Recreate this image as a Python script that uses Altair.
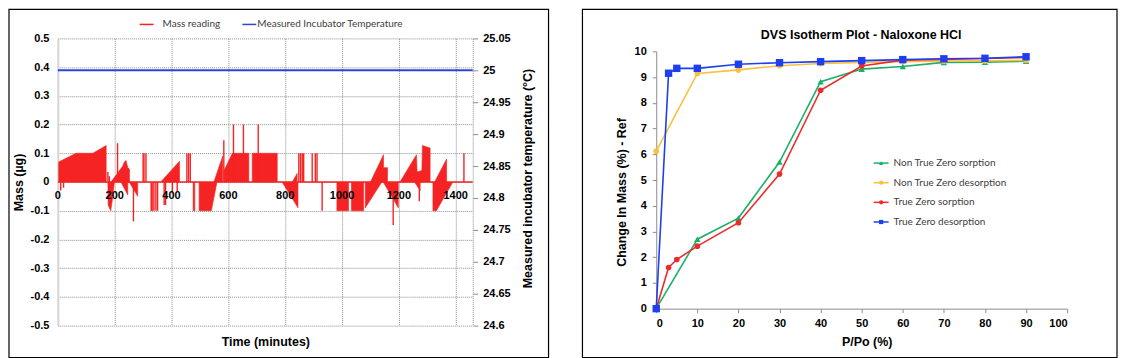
import altair as alt
import pandas as pd

# ---------------- Left panel data (mass reading vs time) ----------------
# envelope polygons of the mass reading trace: (time in minutes, mass in µg)
mass_polygons = [
    [(3, 0), (3, 0.07), (64, 0.1), (123, 0.1), (170, 0.127), (170, 0)],
    [(176, 0), (177, -0.08), (186, -0.1), (192, -0.06), (199, 0)],
    [(187, 0), (228, 0.055), (234, 0.07), (240, 0.075), (246, 0.05), (252, 0.045), (252, 0)],
    [(222, 0), (246, -0.045), (246, 0)],
    [(251, 0), (281, -0.05), (281, 0)],
    [(327, 0), (327, -0.1), (334, -0.1), (334, 0)],
    [(362, 0), (428, 0.072), (428, 0)],
    [(476, 0), (476, -0.1), (482, -0.1), (482, 0)],
    [(497, 0), (497, -0.1), (540, -0.1), (560, 0)],
    [(549, 0), (580, 0.09), (580, 0)],
    [(585, 0), (585, 0.04), (614, 0.1), (672, 0.1), (672, 0)],
    [(684, 0), (684, 0.1), (772, 0.1), (772, 0)],
    [(789, 0), (845, -0.09), (845, 0)],
    [(825, 0), (842, 0.03), (842, 0)],
    [(982, 0), (982, -0.1), (1023, -0.1), (1023, 0)],
    [(1033, 0), (1033, -0.1), (1076, -0.1), (1076, 0)],
    [(1082, 0), (1082, -0.09), (1140, 0)],
    [(1100, 0), (1146, 0.095), (1146, 0.05), (1160, 0.05), (1160, 0)],
    [(1145, 0), (1198, -0.09), (1198, 0)],
    [(1204, 0), (1262, 0.095), (1264, 0.035), (1281, 0.04), (1283, 0.127), (1310, 0.118), (1310, 0)],
    [(1255, 0), (1275, -0.03), (1275, 0)],
    [(1320, 0), (1320, -0.1), (1332, -0.1), (1390, 0)],
    [(1326, 0), (1368, 0.08), (1368, 0)],
]
spike_t = [10, 20, 176, 181, 210, 266, 300, 303, 310, 338, 345, 351, 374, 379, 403, 420,
           454, 460, 466, 584, 618, 653, 705, 848, 854, 860, 865, 895, 906, 912, 930,
           1180, 1272, 1429]
spike_v = [-0.03, -0.02, 0.035, 0.02, 0.135, -0.137, 0.1, 0.1, 0.1, -0.1, -0.1, -0.1, -0.08, -0.08, -0.04, -0.035,
           0.1, 0.1, 0.1, 0.145, 0.2, 0.2, 0.2, 0.1, 0.1, 0.1, 0.1, 0.1, 0.1, 0.1, -0.1,
           -0.15, -0.067, 0.1]
baseline_t = [0, 1460]
baseline_v = [0.0, 0.0]
temp_t = [0, 1460]
temp_v = [25.0, 25.0]
time_ticks = [0, 200, 400, 600, 800, 1000, 1200, 1400]
time_grid = [200, 400, 600, 800, 1000, 1200, 1400, 1460]
mass_ticks = [-0.5, -0.4, -0.3, -0.2, -0.1, 0.0, 0.1, 0.2, 0.3, 0.4, 0.5]
temp_ticks = [24.6, 24.65, 24.7, 24.75, 24.8, 24.85, 24.9, 24.95, 25.0, 25.05]
left_legend_labels = ["Mass reading", "Measured Incubator Temperature"]

# ---------------- Right panel data (DVS isotherm) ----------------
series_names = ["Non True Zero sorption", "Non True Zero desorption",
                "True Zero sorption", "True Zero desorption"]
nz_sorp_x = [0, 10, 20, 30, 40, 50, 60, 70, 80, 90]
nz_sorp_y = [0, 2.70, 3.52, 5.70, 8.82, 9.31, 9.41, 9.57, 9.58, 9.62]
nz_desorp_x = [0, 10, 20, 30, 40, 50, 60, 70, 80, 90]
nz_desorp_y = [6.12, 9.14, 9.28, 9.44, 9.53, 9.57, 9.60, 9.62, 9.63, 9.65]
tz_sorp_x = [0, 3, 5, 10, 20, 30, 40, 50, 60, 70, 80, 90]
tz_sorp_y = [0, 1.60, 1.91, 2.43, 3.34, 5.23, 8.49, 9.43, 9.66, 9.69, 9.72, 9.76]
tz_desorp_x = [0, 3, 5, 10, 20, 30, 40, 50, 60, 70, 80, 90]
tz_desorp_y = [0, 9.15, 9.34, 9.34, 9.50, 9.56, 9.60, 9.64, 9.68, 9.71, 9.73, 9.79]
rh_ticks = [0, 10, 20, 30, 40, 50, 60, 70, 80, 90, 100]
pct_ticks = [0, 1, 2, 3, 4, 5, 6, 7, 8, 9, 10]
right_title = "DVS Isotherm Plot - Naloxone HCl"

# ---------------- styling ----------------
FONT = "Liberation Sans"
LFONT = "Lato"
RED = "#F52323"
BLUE = "#2B45D4"
GRID = "#8c8c8c"
series_colors = ["#1BB068", "#F8C03E", "#EE2B2B", "#1E3FF0"]
series_shapes = ["triangle-up", "circle", "circle", "square"]
series_sizes = [42, 32, 32, 55]
one = pd.DataFrame({"k": [0]})

# ================= LEFT PANEL =================
W1, H1 = 416, 288
poly_rows = []
for pid, poly in enumerate(mass_polygons):
    for idx, (t, m) in enumerate(poly):
        poly_rows.append({"pid": pid, "idx": idx, "t": t, "m": m})
poly_df = pd.DataFrame(poly_rows)
spike_df = pd.DataFrame({"t": spike_t, "m": spike_v, "z": [0.0] * len(spike_t)})
base_df = pd.DataFrame({"t": baseline_t, "m": baseline_v})
temp_df = pd.DataFrame({"t": temp_t, "v": temp_v})
xtick_df = pd.DataFrame({"t": time_ticks, "m": [0.0] * len(time_ticks),
                         "label": [str(v) for v in time_ticks]})

xs1 = alt.Scale(domain=[0, 1460], nice=False, zero=False)
ys_mass = alt.Scale(domain=[-0.5, 0.5], nice=False)
ys_temp = alt.Scale(domain=[24.6, 25.05], nice=False, zero=False)

x_axis1 = alt.Axis(values=time_grid, grid=True, gridColor=GRID, gridDash=[1, 1], gridWidth=1,
                   labels=False, ticks=False, tickSize=0, domain=False,
                   title="Time (minutes)", titleFont=FONT, titleFontSize=12.5, titleFontWeight="bold",
                   titleColor="black", titleX=208, titleY=16, titleAlign="center", titleBaseline="middle")
y_axis_mass = alt.Axis(values=mass_ticks, grid=True, gridColor=GRID, gridDash=[1, 1], gridWidth=1,
                       domain=True, domainColor="#d4d4d4", domainWidth=2, ticks=False, tickSize=0,
                       labelPadding=9, labelFont=FONT, labelFontSize=11, labelFontWeight="bold",
                       labelColor="black", labelOverlap=False, format=".1~f",
                       labelExpr="replace(datum.label, '\u2212', '-')",
                       title="Mass (µg)", titleFont=FONT, titleFontSize=12.5, titleFontWeight="bold",
                       titleColor="black", titleAngle=270, titleX=-39, titleY=144,
                       titleAlign="center", titleBaseline="middle")
y_axis_temp = alt.Axis(orient="right", values=temp_ticks, grid=False, domain=False, ticks=True,
                       tickColor=GRID, tickSize=5, labelPadding=5, labelFont=FONT, labelFontSize=11,
                       labelFontWeight="bold", labelColor="black", labelOverlap=False, format="~g",
                       title="Measured incubator temperature (°C)", titleFont=FONT, titleFontSize=12.5,
                       titleFontWeight="bold", titleColor="black", titleAngle=270, titleX=55, titleY=140,
                       titleAlign="center", titleBaseline="middle")

X1 = alt.X("t:Q", scale=xs1, axis=x_axis1)
YM = alt.Y("m:Q", scale=ys_mass, axis=y_axis_mass)

# filled polygons of the mass trace (closed on the zero line)
polys = alt.Chart(poly_df).mark_line(color=RED, fill=RED, strokeWidth=0.6, interpolate="linear").encode(
    x=X1, y=YM, detail="pid:N", order="idx:Q")
spikes = alt.Chart(spike_df).mark_rule(color=RED, strokeWidth=1.4).encode(
    x=X1, y=YM, y2="z:Q")
base = alt.Chart(base_df).mark_line(color=RED, strokeWidth=1.5).encode(x=X1, y=YM)
xlabels = alt.Chart(xtick_df).mark_text(font=FONT, fontSize=11, fontWeight="bold", color="black",
                                        baseline="middle", align="center", dy=14).encode(
    x=X1, y=YM, text="label:N")
mass_group = alt.layer(polys, spikes, base, xlabels)

temp_line = alt.Chart(temp_df).mark_line(color=BLUE, strokeWidth=2).encode(
    x=X1, y=alt.Y("v:Q", scale=ys_temp, axis=y_axis_temp))

border1 = alt.Chart(one).mark_rect(filled=False, stroke="black", strokeWidth=1.2).encode(
    x=alt.value(-49), x2=alt.value(492), y=alt.value(-29), y2=alt.value(320))
leg1_rule_a = alt.Chart(one).mark_rule(color=RED, strokeWidth=1.5).encode(
    x=alt.value(82), x2=alt.value(96), y=alt.value(-14))
leg1_text_a = alt.Chart(one).mark_text(font=LFONT, fontSize=10, color="#404040", align="left",
                                       baseline="middle").encode(
    x=alt.value(105), y=alt.value(-14), text=alt.value(left_legend_labels[0]))
leg1_rule_b = alt.Chart(one).mark_rule(color=BLUE, strokeWidth=1.5).encode(
    x=alt.value(185), x2=alt.value(199), y=alt.value(-14))
leg1_text_b = alt.Chart(one).mark_text(font=LFONT, fontSize=10, color="#404040", align="left",
                                       baseline="middle").encode(
    x=alt.value(200), y=alt.value(-14), text=alt.value(left_legend_labels[1]))

left = alt.layer(mass_group, temp_line, border1, leg1_rule_a, leg1_text_a, leg1_rule_b, leg1_text_b
                 ).resolve_scale(y="independent").properties(width=W1, height=H1)

# ================= RIGHT PANEL =================
# plot group starts at the same top as the left one; the value scale occupies 13..271 px
W2, H2 = 412, 271
TOP2 = 13
xs2 = alt.Scale(domain=[0, 100], nice=False)
ys2 = alt.Scale(domain=[0, 10], nice=False, range=[H2, TOP2])
x_axis2 = alt.Axis(values=rh_ticks, grid=False, domain=True, domainColor=GRID, domainWidth=1,
                   ticks=True, tickColor=GRID, tickSize=4, labelPadding=5, labelFont=FONT,
                   labelFontSize=11, labelFontWeight="bold", labelColor="black", labelOverlap=False,
                   title="P/Po (%)", titleFont=FONT, titleFontSize=12.5, titleFontWeight="bold",
                   titleColor="black", titleX=211, titleY=33, titleAlign="center", titleBaseline="middle")
y_axis2 = alt.Axis(values=pct_ticks, grid=False, domain=True, domainColor=GRID, domainWidth=1,
                   ticks=True, tickColor=GRID, tickSize=4, labelPadding=6, labelFont=FONT,
                   labelFontSize=11, labelFontWeight="bold", labelColor="black", labelOverlap=False,
                   title="Change In Mass (%) - Ref", titleFont=FONT, titleFontSize=12.5,
                   titleFontWeight="bold", titleColor="black", titleAngle=270, titleX=-35,
                   titleY=141 + TOP2, titleAlign="center", titleBaseline="middle")
X2 = alt.X("x:Q", scale=xs2, axis=x_axis2)
Y2 = alt.Y("y:Q", scale=ys2, axis=y_axis2)

series_data = [(nz_sorp_x, nz_sorp_y), (nz_desorp_x, nz_desorp_y),
               (tz_sorp_x, tz_sorp_y), (tz_desorp_x, tz_desorp_y)]
right_layers = []
for i, (xs, ys) in enumerate(series_data):
    df = pd.DataFrame({"x": xs, "y": ys, "series": series_names[i]})
    right_layers.append(alt.Chart(df).mark_line(color=series_colors[i], strokeWidth=1.6).encode(x=X2, y=Y2))
    right_layers.append(alt.Chart(df).mark_point(shape=series_shapes[i], filled=True, opacity=1,
                                                 color=series_colors[i], size=series_sizes[i]).encode(x=X2, y=Y2))

for i, name in enumerate(series_names):
    yy = TOP2 + 112 + i * 19.7
    right_layers.append(alt.Chart(one).mark_rule(color=series_colors[i], strokeWidth=1.5).encode(
        x=alt.value(218), x2=alt.value(233), y=alt.value(yy)))
    right_layers.append(alt.Chart(one).mark_point(shape=series_shapes[i], filled=True, opacity=1,
                                                  color=series_colors[i], size=18).encode(
        x=alt.value(225.5), y=alt.value(yy)))
    right_layers.append(alt.Chart(one).mark_text(font=LFONT, fontSize=10, color="#404040", align="left",
                                                 baseline="middle").encode(
        x=alt.value(238), y=alt.value(yy), text=alt.value(name)))

right_layers.append(alt.Chart(one).mark_text(font=FONT, fontSize=12.5, fontWeight="bold", color="black",
                                             align="center", baseline="middle").encode(
    x=alt.value(205.5), y=alt.value(TOP2 - 16.5), text=alt.value(right_title)))
right_layers.append(alt.Chart(one).mark_rect(filled=False, stroke="black", strokeWidth=1.2).encode(
    x=alt.value(-74), x2=alt.value(462), y=alt.value(TOP2 - 42), y2=alt.value(H2 + 49)))

right = alt.layer(*right_layers).properties(width=W2, height=H2)

chart = alt.hconcat(left, right, spacing=32).properties(padding=0).configure_view(stroke=None)
chart.save("out.html", embed_options={"renderer": "svg", "actions": False})
